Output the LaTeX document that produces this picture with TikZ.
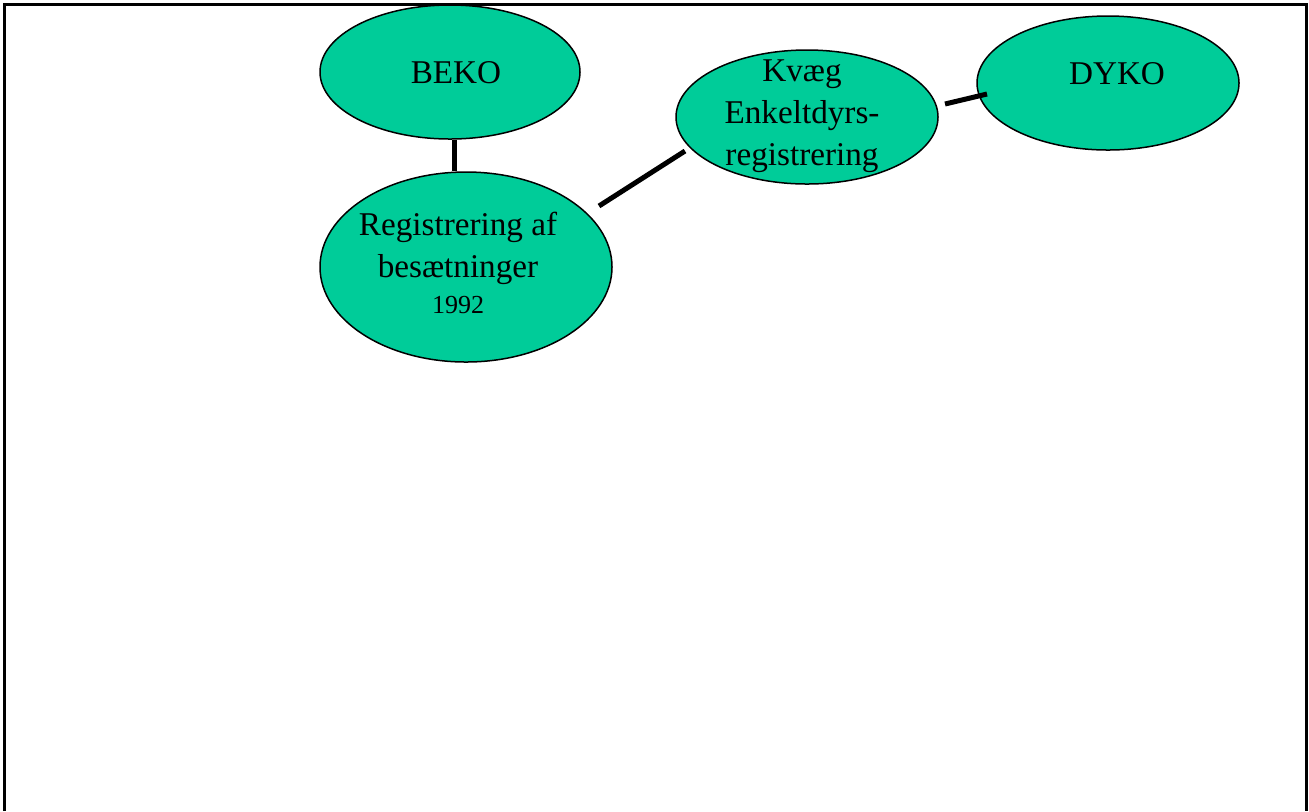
\documentclass[tikz,border=0pt]{standalone}
\usepackage{fontspec}
\setmainfont{Liberation Serif}
\usetikzlibrary{shapes.geometric}
\definecolor{blobfill}{RGB}{0,204,153}
\tikzset{
  blob/.style={ellipse, draw=black, line width=0.75pt, fill=blobfill, inner sep=0pt},
  lbl/.style={align=center, font=\fontsize{16.6pt}{21pt}\selectfont, inner sep=0pt},
  conn/.style={line width=2.5pt},
  frame/.style={line width=1.5pt}
}
\begin{document}
\begin{tikzpicture}[x=0.5pt,y=-0.5pt]
\useasboundingbox (0,0) rectangle (1309,811);
\draw[frame] (4,811) -- (4,4) -- (1306,4) -- (1306,811);

\node[blob, minimum width=130pt, minimum height=67pt] (beko) at (450,72) {};
\node[blob, minimum width=146pt, minimum height=95pt] (reg) at (466,267) {};
\node[blob, minimum width=131pt, minimum height=67pt] (kvaeg) at (807,117) {};
\node[blob, minimum width=131pt, minimum height=67pt] (dyko) at (1108,83) {};

\node[lbl] (tbeko) at (456,73) {BEKO};
\node[lbl] (treg) at (458,248) {Registrering af\\besætninger};
\node[font=\fontsize{13pt}{15pt}\selectfont, inner sep=0pt] (tyear) at (458,305) {1992};
\node[lbl] (tkvaeg) at (802,116) {Kvæg\\Enkeltdyrs-\\registrering};
\node[lbl] (tdyko) at (1117,74) {DYKO};

\coordinate (c1) at (599,206);
\coordinate (c2) at (685,151);
\coordinate (c3) at (945,104);
\coordinate (c4) at (987,94);
\draw[conn] (beko.south -| 454,0) -- (reg.north -| 454,0);
\draw[conn] (c1) -- (c2);
\draw[conn] (c3) -- (c4);
\end{tikzpicture}
\end{document}
